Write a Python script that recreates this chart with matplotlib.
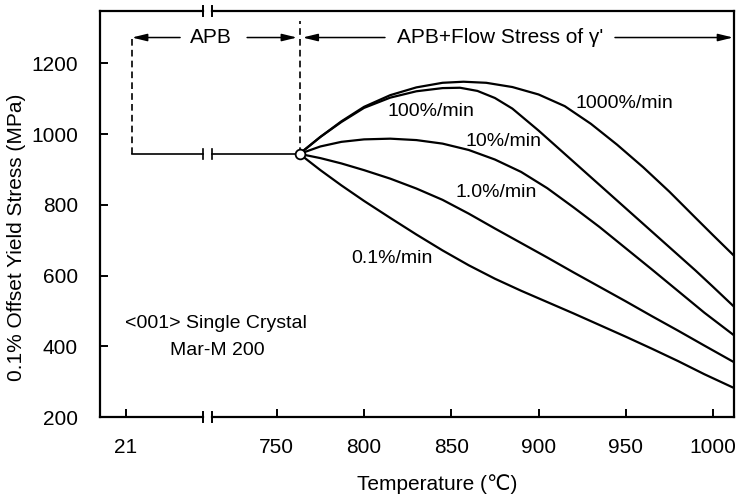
import numpy as np
import matplotlib
matplotlib.use('Agg')
import matplotlib.pyplot as plt

plt.rcParams['font.family'] = ['Liberation Sans', 'DejaVu Sans']

# strain-rate curves, temperature (C) vs 0.1% offset yield stress (MPa)
t_1000 = [763, 775, 787, 800, 815, 830, 845, 857, 870, 885, 900, 915, 930, 945, 960, 975, 990, 1000, 1012]
s_1000 = [944, 992, 1036, 1077, 1110, 1132, 1145, 1148, 1145, 1133, 1112, 1079, 1029, 970, 906, 837, 763, 714, 656]

t_100 = [763, 775, 787, 800, 815, 830, 845, 855, 865, 875, 885, 900, 915, 930, 945, 960, 975, 990, 1000, 1012]
s_100 = [944, 992, 1034, 1074, 1103, 1121, 1130, 1131, 1122, 1102, 1072, 1010, 944, 878, 812, 746, 680, 614, 568, 512]

t_10 = [763, 775, 787, 800, 815, 830, 845, 860, 875, 890, 905, 920, 935, 950, 965, 980, 995, 1012]
s_10 = [944, 965, 978, 985, 987, 983, 973, 955, 928, 893, 847, 793, 737, 677, 617, 556, 495, 431]

t_1 = [763, 775, 787, 800, 815, 830, 845, 860, 875, 890, 905, 920, 935, 950, 965, 980, 995, 1012]
s_1 = [944, 932, 917, 898, 874, 846, 814, 775, 733, 692, 651, 609, 568, 527, 485, 444, 402, 355]

t_01 = [763, 775, 787, 800, 815, 830, 845, 860, 875, 890, 905, 920, 935, 950, 965, 980, 995, 1012]
s_01 = [944, 898, 855, 811, 763, 716, 671, 629, 591, 557, 525, 493, 460, 427, 393, 358, 321, 282]

rate_labels = ['1000%/min', '100%/min', '10%/min', '1.0%/min', '0.1%/min']

xtick_pos = [663.6, 750, 800, 850, 900, 950, 1000]   # "21" sits left of the axis break
xtick_lab = ['21', '750', '800', '850', '900', '950', '1000']
ytick_pos = [200, 400, 600, 800, 1000, 1200]

start_t, start_s = 763.3, 944
apb_t = 667
brk1, brk2 = 707.5, 713
xmin, xmax = 648.7, 1012
ymin, ymax = 200, 1348

fs = 14

fig = plt.figure(figsize=(7.44, 4.98), dpi=100)
ax = fig.add_axes([100/744, 81/498, 634/744, 406/498])

for t, s in [(t_1000, s_1000), (t_100, s_100), (t_10, s_10), (t_1, s_1), (t_01, s_01)]:
    ax.plot(t, s, color='black', lw=1.6, solid_joinstyle='round')

ax.set_xlim(xmin, xmax)
ax.set_ylim(ymin, ymax)

# broken top/bottom spines
ax.spines['top'].set_visible(False)
ax.spines['bottom'].set_visible(False)
ax.spines['left'].set_linewidth(1.6)
ax.spines['right'].set_linewidth(1.6)
tr = ax.get_xaxis_transform()
for yy in [0, 1]:
    ax.plot([xmin, brk1], [yy, yy], color='black', lw=1.6, transform=tr, clip_on=False)
    ax.plot([brk2, xmax], [yy, yy], color='black', lw=1.6, transform=tr, clip_on=False)
    for b in [brk1, brk2]:
        ax.plot([b, b], [yy - 0.012, yy + 0.012], color='black', lw=1.4, transform=tr, clip_on=False)

ax.set_xticks(xtick_pos)
ax.set_xticklabels(xtick_lab)
ax.set_yticks(ytick_pos)
ax.tick_params(direction='in', length=6, width=1.4, labelsize=15, top=False, right=False)
ax.tick_params(axis='x', pad=15)
ax.tick_params(axis='y', pad=16)

# reference lines: APB region
ax.plot([apb_t, brk1], [start_s, start_s], color='black', lw=1.2)
ax.plot([brk2, start_t], [start_s, start_s], color='black', lw=1.2)
for b in [brk1, brk2]:
    ax.plot([b, b], [start_s - 14, start_s + 14], color='black', lw=1.2)
ax.plot([apb_t, apb_t], [start_s, 1273], color='black', lw=1.2, ls=(0, (4, 2.5)))
ax.plot([start_t, start_t], [start_s, 1320], color='black', lw=1.2, ls=(0, (4, 2.5)))
ax.plot([start_t], [start_s], marker='o', ms=7, mfc='white', mec='black', mew=1.3, zorder=5)

arr = dict(arrowstyle='-|>,head_length=0.9,head_width=0.22', color='black', lw=1.1, shrinkA=0, shrinkB=0)
ax.annotate('', xy=(apb_t, 1273), xytext=(694.6, 1273), arrowprops=arr)
ax.annotate('', xy=(761.6, 1273), xytext=(733, 1273), arrowprops=arr)
ax.annotate('', xy=(764.8, 1273), xytext=(812, 1273), arrowprops=arr)
ax.annotate('', xy=(1011.5, 1273), xytext=(943.8, 1273), arrowprops=arr)
ax.text(712.4, 1273, 'APB', ha='center', va='center', fontsize=15)
ax.text(878, 1273, "APB+Flow Stress of γ'", ha='center', va='center', fontsize=15)

# curve labels
ax.text(949.1, 1087, rate_labels[0], ha='center', va='center', fontsize=fs)
ax.text(838.4, 1065, rate_labels[1], ha='center', va='center', fontsize=fs)
ax.text(879.7, 980, rate_labels[2], ha='center', va='center', fontsize=fs)
ax.text(875.7, 834, rate_labels[3], ha='center', va='center', fontsize=fs)
ax.text(816.2, 648, rate_labels[4], ha='center', va='center', fontsize=fs)

ax.text(715.3, 465, '<001> Single Crystal', ha='center', va='center', fontsize=fs)
ax.text(715.9, 389, 'Mar-M 200', ha='center', va='center', fontsize=fs)

fig.text(437/744, 1 - 484/498, 'Temperature (℃)', ha='center', va='center', fontsize=15)
fig.text(17/744, 1 - 237/498, '0.1% Offset Yield Stress (MPa)', ha='center', va='center',
         rotation=90, fontsize=15)

fig.savefig('out.png', dpi=100)
